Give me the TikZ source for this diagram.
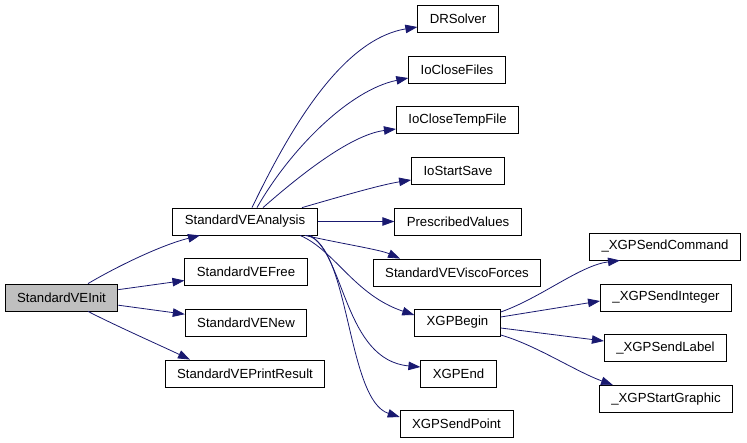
\documentclass[tikz,border=0pt]{standalone}
\usepackage{fontspec}
\setmainfont{Liberation Sans}
\usepackage{tikz}
\usetikzlibrary{calc,arrows.meta}
\definecolor{callblue}{HTML}{191970}
\tikzset{
	fnbox/.style={draw=black, line width=0.8pt, fill=white, inner xsep=12pt, inner ysep=0pt, minimum height=27pt, font=\fontsize{13.2}{15}\selectfont},
	callarrow/.style={draw=callblue, line width=0.8pt, -{Triangle[length=12pt,width=8.5pt]}}
}

\begin{document}
\begin{tikzpicture}[x=1pt, y=-1pt]
		%%%%% START %%%%%
		\useasboundingbox (0,0) rectangle (747,443);
		
		\node[fnbox, fill=black!25] (init) at (61.5, 297.5) {StandardVEInit};
		
		\node[fnbox] (analysis) at (245, 221.5) {StandardVEAnalysis};
		\node[fnbox] (free) at (246, 272) {StandardVEFree};
		\node[fnbox] (new) at (246, 322.5) {StandardVENew};
		\node[fnbox] (printres) at (245, 373.5) {StandardVEPrintResult};
		
		\node[fnbox] (drsolver) at (458, 18.5) {DRSolver};
		\node[fnbox] (closefiles) at (457, 70) {IoCloseFiles};
		\node[fnbox] (closetemp) at (457.5, 120) {IoCloseTempFile};
		\node[fnbox] (startsave) at (458, 171) {IoStartSave};
		\node[fnbox] (prescribed) at (458, 221.5) {PrescribedValues};
		\node[fnbox] (visco) at (457, 272.5) {StandardVEViscoForces};
		\node[fnbox] (xgpbegin) at (457.5, 322.5) {XGPBegin};
		\node[fnbox] (xgpend) at (458.5, 373.5) {XGPEnd};
		\node[fnbox] (sendpoint) at (456.5, 424) {XGPSendPoint};
		
		\node[fnbox] (sendcmd) at (665, 246.5) {\_XGPSendCommand};
		\node[fnbox] (sendint) at (666, 297.5) {\_XGPSendInteger};
		\node[fnbox] (sendlabel) at (665.5, 348) {\_XGPSendLabel};
		\node[fnbox] (startgraph) at (666, 399) {\_XGPStartGraphic};
		
		% calls of StandardVEInit
		\draw[callarrow] ($(init.north)+(26.5,0)$) .. controls +(27,-16) and +(-40,10) .. ($(analysis.south)+(-45,0)$);
		\draw[callarrow] (init) -- (free);
		\draw[callarrow] (init) -- (new);
		\draw[callarrow] ($(init.south)+(26.5,0)$) .. controls +(27,14) and +(-25,-12) .. ($(printres.north)+(-55,0)$);
		
		% calls of StandardVEAnalysis
		\draw[callarrow] ($(analysis.north)+(7,0)$) .. controls +(33,-68) and +(-79,13) .. ($(drsolver.west)+(0,8.5)$);
		\draw[callarrow] ($(analysis.north)+(12,0)$) .. controls +(33,-58) and +(-59,12) .. ($(closefiles.west)+(0,8)$);
		\draw[callarrow] ($(analysis.north)+(18,0)$) .. controls +(32,-28) and +(-47,6) .. ($(closetemp.west)+(0,9)$);
		\draw[callarrow] ($(analysis.north)+(57,0)$) .. controls +(28,-8) and +(-32,5) .. ($(startsave.west)+(0,9)$);
		\draw[callarrow] (analysis) -- (prescribed);
		\draw[callarrow] ($(analysis.south)+(60,0)$) .. controls +(35,8) and +(-20,-9) .. ($(visco.north)+(-57,0)$);
		\draw[callarrow] ($(analysis.south)+(55,0)$) .. controls +(35,15) and +(-60,-20) .. ($(xgpbegin.west)+(0,-7.5)$);
		\draw[callarrow] ($(analysis.south)+(65,0)$) .. controls +(35,20) and +(-76,-7) .. ($(xgpend.west)+(0,-6.5)$);
		\draw[callarrow] ($(analysis.south)+(62,0)$) .. controls +(43,10) and +(-53,-17) .. ($(sendpoint.west)+(0,-7)$);
		
		% calls of XGPBegin
		\draw[callarrow] ($(xgpbegin.east)+(0,-10.5)$) .. controls +(40,-14) and +(-40,5) .. ($(sendcmd.south)+(-45,0)$);
		\draw[callarrow] ($(xgpbegin.east)+(0,-5.5)$) -- ($(sendint.west)+(0,3.5)$);
		\draw[callarrow] ($(xgpbegin.east)+(0,5.5)$) -- ($(sendlabel.west)+(0,-7)$);
		\draw[callarrow] ($(xgpbegin.east)+(0,12.5)$) .. controls +(35,10) and +(-38,-14) .. ($(startgraph.north)+(-53,0)$);
		
		%%%%% END %%%%%
	\end{tikzpicture}
\end{document}
